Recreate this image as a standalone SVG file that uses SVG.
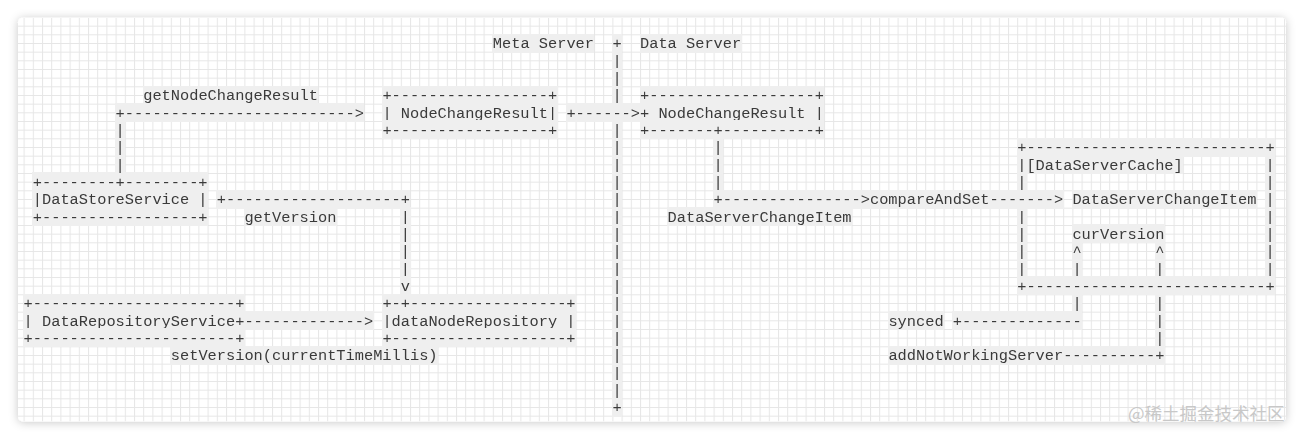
<svg xmlns="http://www.w3.org/2000/svg" width="1304" height="440" viewBox="0 0 1304 440">
<defs>
<style>
.t{font-family:"Liberation Mono","Courier New",monospace;font-size:15.333px;fill:#3a3a3a;filter:url(#hl)}
.wm{font-family:"Noto Sans CJK SC","Noto Sans",sans-serif;font-size:17.5px;fill:#c8c8c8}
</style>
<filter id="hl" x="0" y="-0.07" width="1" height="1" color-interpolation-filters="sRGB">
<feFlood flood-color="#efefef" result="bg"/>
<feMerge><feMergeNode in="bg"/><feMergeNode in="SourceGraphic"/></feMerge>
</filter>
<filter id="sh" x="-5%" y="-10%" width="110%" height="120%">
<feDropShadow dx="0" dy="1" stdDeviation="5" flood-color="#000" flood-opacity="0.22"/>
</filter>
<pattern id="grid" x="23.6" y="34.333" width="9.2" height="17.333" patternUnits="userSpaceOnUse">
<path d="M0.5 0V17.333M0 0.5H9.2M0 9.17H9.2" fill="none" stroke="#e6e6e6" stroke-width="1"/>
</pattern>
<clipPath id="card"><rect x="18" y="17.5" width="1268" height="404" rx="5"/></clipPath>
</defs>
<rect width="1304" height="440" fill="#ffffff"/>
<rect x="18" y="17.5" width="1268" height="404" rx="5" fill="#fff" filter="url(#sh)"/>
<rect x="18" y="17.5" width="1268" height="404" fill="url(#grid)" clip-path="url(#card)"/>

<g id="header">
<text class="t" x="492.8" y="48.3">Meta Server</text>
<text class="t" x="640" y="48.3">Data Server</text>
</g>

<g id="divider">
<text class="t" x="612.4" y="48.3">+</text>
<text class="t" x="612.4" y="65.63">|</text>
<text class="t" x="612.4" y="82.97">|</text>
<text class="t" x="612.4" y="100.3">|</text>
<text class="t" x="612.4" y="134.97">|</text>
<text class="t" x="612.4" y="152.3">|</text>
<text class="t" x="612.4" y="169.63">|</text>
<text class="t" x="612.4" y="186.97">|</text>
<text class="t" x="612.4" y="204.3">|</text>
<text class="t" x="612.4" y="221.63">|</text>
<text class="t" x="612.4" y="238.97">|</text>
<text class="t" x="612.4" y="256.3">|</text>
<text class="t" x="612.4" y="273.63">|</text>
<text class="t" x="612.4" y="290.97">|</text>
<text class="t" x="612.4" y="308.3">|</text>
<text class="t" x="612.4" y="325.63">|</text>
<text class="t" x="612.4" y="342.97">|</text>
<text class="t" x="612.4" y="360.3">|</text>
<text class="t" x="612.4" y="377.63">|</text>
<text class="t" x="612.4" y="394.97">|</text>
<text class="t" x="612.4" y="412.3">+</text>
</g>

<g id="node-meta-nodechangeresult">
<text class="t" x="382.4" y="100.3">+-----------------+</text>
<text class="t" x="382.4" y="117.63">| NodeChangeResult|</text>
<text class="t" x="382.4" y="134.97">+-----------------+</text>
</g>

<g id="node-data-nodechangeresult">
<text class="t" x="640" y="100.3">+------------------+</text>
<text class="t" x="640" y="117.63">+ NodeChangeResult |</text>
<text class="t" x="640" y="134.97">+-------+----------+</text>
</g>

<g id="node-datastoreservice">
<text class="t" x="32.8" y="186.97">+--------+--------+</text>
<text class="t" x="32.8" y="204.3">|DataStoreService |</text>
<text class="t" x="32.8" y="221.63">+-----------------+</text>
</g>

<g id="node-datarepositoryservice">
<text class="t" x="23.6" y="308.3">+----------------------+</text>
<text class="t" x="23.6" y="325.63">| DataRepositoryService+</text>
<text class="t" x="23.6" y="342.97">+----------------------+</text>
</g>

<g id="node-datanoderepository">
<text class="t" x="382.4" y="308.3">+-+-----------------+</text>
<text class="t" x="382.4" y="325.63">|dataNodeRepository |</text>
<text class="t" x="382.4" y="342.97">+-------------------+</text>
</g>

<g id="node-dataservercache">
<text class="t" x="1017.2" y="152.3">+--------------------------+</text>
<text class="t" x="1017.2" y="169.63">|[DataServerCache]</text>
<text class="t" x="1265.6" y="169.63">|</text>
<text class="t" x="1017.2" y="186.97">|</text>
<text class="t" x="1265.6" y="186.97">|</text>
<text class="t" x="1072.4" y="204.3">DataServerChangeItem</text>
<text class="t" x="1265.6" y="204.3">|</text>
<text class="t" x="1017.2" y="221.63">|</text>
<text class="t" x="1265.6" y="221.63">|</text>
<text class="t" x="1017.2" y="238.97">|</text>
<text class="t" x="1072.4" y="238.97">curVersion</text>
<text class="t" x="1265.6" y="238.97">|</text>
<text class="t" x="1017.2" y="256.3">|</text>
<text class="t" x="1072.4" y="256.3">^</text>
<text class="t" x="1155.2" y="256.3">^</text>
<text class="t" x="1265.6" y="256.3">|</text>
<text class="t" x="1017.2" y="273.63">|</text>
<text class="t" x="1072.4" y="273.63">|</text>
<text class="t" x="1155.2" y="273.63">|</text>
<text class="t" x="1265.6" y="273.63">|</text>
<text class="t" x="1017.2" y="290.97">+--------------------------+</text>
</g>

<g id="connectors">
<text class="t" x="143.2" y="100.3">getNodeChangeResult</text>
<text class="t" x="115.6" y="117.63">+-------------------------&gt;</text>
<text class="t" x="115.6" y="134.97">|</text>
<text class="t" x="115.6" y="152.3">|</text>
<text class="t" x="115.6" y="169.63">|</text>

<text class="t" x="566.4" y="117.63">+------&gt;</text>

<text class="t" x="713.6" y="152.3">|</text>
<text class="t" x="713.6" y="169.63">|</text>
<text class="t" x="713.6" y="186.97">|</text>
<text class="t" x="713.6" y="204.3">+---------------&gt;compareAndSet-------&gt;</text>
<text class="t" x="667.6" y="221.63">DataServerChangeItem</text>

<text class="t" x="216.8" y="204.3">+-------------------+</text>
<text class="t" x="244.4" y="221.63">getVersion</text>
<text class="t" x="400.8" y="221.63">|</text>
<text class="t" x="400.8" y="238.97">|</text>
<text class="t" x="400.8" y="256.3">|</text>
<text class="t" x="400.8" y="273.63">|</text>
<text class="t" x="400.8" y="290.97">v</text>

<text class="t" x="244.4" y="325.63">-------------&gt;</text>
<text class="t" x="170.8" y="360.3">setVersion(currentTimeMillis)</text>

<text class="t" x="1072.4" y="308.3">|</text>
<text class="t" x="888.4" y="325.63">synced</text>
<text class="t" x="952.8" y="325.63">+-------------</text>

<text class="t" x="1155.2" y="308.3">|</text>
<text class="t" x="1155.2" y="325.63">|</text>
<text class="t" x="1155.2" y="342.97">|</text>
<text class="t" x="888.4" y="360.3">addNotWorkingServer----------+</text>
</g>

<text class="wm" x="1128" y="419.5">@稀土掘金技术社区</text>
</svg>
